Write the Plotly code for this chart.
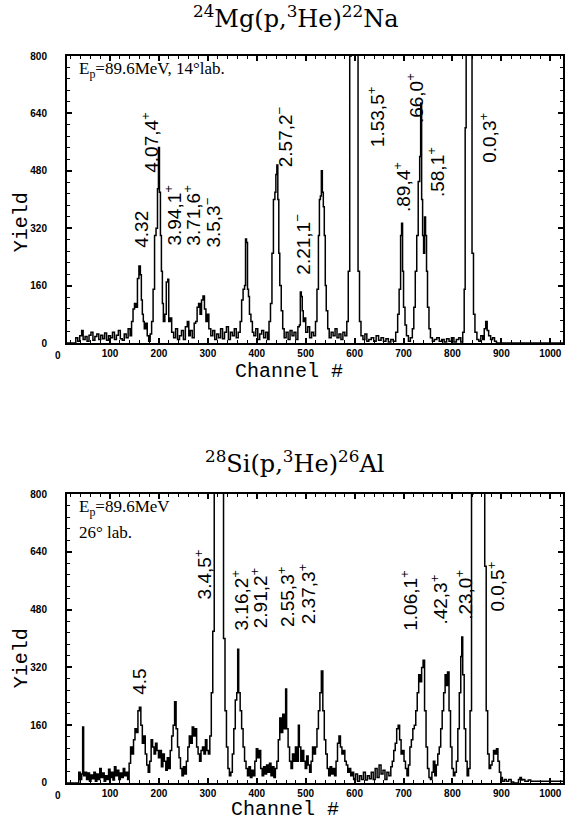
import plotly.graph_objects as go

# ---------------- data: 24Mg(p,3He)22Na ----------------
mg_channel = [0, 30, 34, 38, 42, 45, 49, 53, 57, 61, 65, 69, 73, 77, 81, 85, 89, 93, 97, 101, 105, 109, 113, 117, 121, 125, 129, 133, 137, 141,
              144, 147, 150, 153, 156, 159, 162, 164, 166, 168, 170, 173, 176, 179, 182, 185, 188, 191, 194, 197, 199, 201, 203, 205, 207, 209,
              212, 215, 218, 220, 223, 226, 230, 234, 238, 242, 246, 250, 254, 258, 261, 264, 268, 272, 275, 278, 281, 284, 287, 290, 293, 296,
              299, 302, 306, 310, 314, 318, 322, 326, 330, 334, 338, 342, 346, 350, 354, 358, 362, 366, 369, 372, 375, 377, 379, 381, 383, 385,
              388, 391, 394, 398, 402, 406, 410, 414, 418, 422, 425, 428, 431, 434, 437, 439, 441, 443, 445, 447, 450, 453, 456, 460, 464, 468,
              472, 476, 480, 484, 487, 489, 491, 493, 495, 497, 500, 504, 508, 512, 516, 520, 523, 526, 528, 530, 532, 534, 536, 538, 540, 542,
              545, 548, 552, 556, 560, 564, 568, 572, 576, 580, 584, 587, 590, 593, 600, 604, 607, 610, 613, 617, 621, 625, 629, 634, 639, 644,
              649, 654, 659, 664, 669, 674, 679, 684, 688, 691, 694, 696, 698, 700, 703, 706, 710, 714, 718, 721, 724, 727, 730, 733, 735, 737,
              739, 741, 743, 745, 747, 749, 752, 755, 759, 763, 768, 773, 778, 783, 788, 793, 798, 803, 808, 813, 817, 821, 824, 826, 828, 832,
              837, 840, 843, 846, 850, 854, 858, 862, 865, 868, 871, 874, 878, 882, 886, 890, 1026]
mg_yield = [0, 15, 5, 20, 35, 10, 18, 5, 22, 30, 8, 18, 25, 10, 22, 12, 28, 8, 20, 15, 30, 10, 22, 35, 12, 8, 25, 15, 40, 20,
            60, 95, 110, 100, 180, 215, 190, 120, 80, 60, 40, 55, 20, 5, 25, 60, 150, 300, 320, 430, 545, 420, 300, 200, 110, 60,
            80, 170, 178, 60, 70, 30, 15, 40, 10, 20, 35, 10, 45, 60, 20, 35, 15, 55, 60, 100, 110, 80, 120, 131, 95, 60,
            80, 40, 20, 35, 10, 25, 15, 40, 12, 30, 45, 10, 30, 20, 40, 15, 30, 60, 120, 150, 160, 290, 280, 150, 130, 80,
            60, 30, 20, 40, 10, 25, 35, 15, 30, 10, 60, 110, 250, 400, 420, 470, 496, 400, 250, 160, 90, 40, 15, 30, 10, 35,
            20, 30, 10, 45, 50, 142, 130, 90, 60, 70, 30, 45, 15, 30, 20, 60, 150, 300, 400, 410, 480, 420, 380, 300, 160, 90,
            40, 15, 30, 20, 40, 15, 25, 10, 30, 20, 60, 200, 800, 3000, 2500, 900, 200, 60, 20, 10, 25, 5, 10, 15, 5, 20,
            8, 15, 5, 12, 3, 10, 5, 30, 80, 150, 300, 334, 200, 100, 50, 20, 5, 15, 40, 100, 200, 300, 450, 520, 668, 400,
            300, 250, 351, 300, 200, 100, 40, 15, 5, 10, 15, 5, 10, 3, 12, 5, 15, 3, 10, 15, 3, 30, 150, 600, 2000, 3000,
            1000, 250, 80, 30, 10, 5, 20, 10, 40, 60, 35, 20, 10, 15, 5, 0, 0]

# ---------------- data: 28Si(p,3He)26Al ----------------
si_channel = [0, 36, 39, 42, 44, 46, 49, 52, 55, 58, 61, 64, 67, 70, 73, 76, 79, 82, 85, 88, 91, 94, 97, 100, 103, 106, 109, 112, 115, 118,
              121, 124, 127, 130, 133, 136, 139, 142, 145, 148, 151, 154, 157, 160, 163, 166, 169, 172, 175, 178, 181, 184, 187, 190, 193, 196,
              199, 202, 205, 208, 211, 214, 217, 220, 223, 226, 229, 232, 235, 238, 241, 244, 247, 250, 253, 256, 259, 262, 265, 268, 271, 274,
              277, 280, 283, 286, 289, 292, 295, 298, 301, 304, 307, 310, 313, 316, 326, 329, 332, 335, 338, 341, 344, 347, 350, 353, 356, 359,
              361, 363, 366, 369, 372, 375, 378, 381, 384, 387, 390, 393, 396, 399, 402, 405, 408, 411, 414, 417, 420, 423, 426, 429, 432, 435,
              438, 441, 444, 447, 450, 453, 456, 459, 461, 464, 467, 470, 473, 476, 479, 482, 485, 487, 490, 493, 496, 499, 502, 505, 508, 511,
              514, 517, 520, 523, 526, 529, 532, 535, 538, 541, 544, 547, 550, 553, 556, 559, 562, 565, 568, 571, 574, 577, 580, 583, 586, 589,
              592, 595, 598, 602, 606, 610, 614, 618, 622, 626, 630, 634, 638, 642, 646, 650, 654, 658, 662, 666, 670, 674, 677, 680, 683, 686,
              689, 692, 695, 698, 701, 704, 707, 710, 713, 716, 719, 722, 725, 728, 731, 734, 737, 740, 743, 746, 749, 752, 755, 758, 761, 764,
              767, 770, 773, 776, 779, 782, 785, 788, 790, 793, 796, 799, 802, 805, 808, 811, 814, 817, 819, 821, 824, 827, 830, 833, 836, 839,
              842, 862, 866, 869, 872, 875, 878, 881, 884, 887, 890, 893, 896, 899, 902, 906, 910, 915, 920, 925, 935, 938, 941, 944, 948, 955,
              960, 1026]
si_yield = [0, 30, 10, 25, 155, 20, 30, 10, 28, 5, 22, 12, 30, 5, 25, 10, 40, 15, 28, 5, 20, 10, 38, 15, 30, 8, 45, 20, 35, 10,
            28, 15, 40, 20, 30, 10, 55, 100, 80, 120, 150, 140, 200, 210, 160, 110, 130, 80, 50, 30, 60, 120, 100, 80, 110, 90,
            70, 90, 45, 80, 60, 35, 70, 40, 90, 130, 160, 225, 150, 100, 70, 40, 20, 45, 25, 60, 100, 130, 110, 155, 130, 150,
            100, 80, 60, 90, 100, 80, 120, 90, 80, 130, 250, 420, 900, 3000, 2000, 900, 400, 200, 100, 40, 20, 30, 80, 150, 230, 250,
            370, 250, 200, 150, 100, 60, 40, 20, 45, 15, 35, 20, 60, 95, 70, 90, 40, 20, 45, 25, 50, 30, 55, 20, 45, 15,
            40, 60, 120, 180, 140, 190, 150, 260, 150, 100, 60, 40, 80, 60, 100, 60, 160, 100, 60, 90, 60, 40, 75, 50, 30, 60,
            100, 80, 100, 150, 200, 250, 310, 200, 120, 80, 40, 20, 45, 25, 40, 20, 60, 110, 130, 100, 80, 90, 60, 50, 30, 40,
            20, 30, 10, 25, 5, 20, 10, 30, 8, 20, 12, 30, 10, 40, 15, 50, 25, 35, 10, 30, 20, 45, 60, 90, 110, 150,
            160, 120, 80, 90, 60, 40, 20, 50, 100, 120, 150, 160, 200, 250, 300, 280, 320, 340, 200, 100, 40, 15, 10, 30, 60, 20,
            50, 80, 100, 150, 200, 250, 300, 270, 307, 200, 100, 40, 20, 30, 60, 150, 250, 350, 404, 300, 150, 60, 20, 40, 200, 800,
            3000, 1500, 600, 200, 80, 40, 50, 60, 90, 80, 95, 60, 30, 15, 5, 10, 5, 10, 3, 0, 10, 15, 8, 10, 5, 8,
            5, 5]

x_tick_vals = [100, 200, 300, 400, 500, 600, 700, 800, 900, 1000]
y_tick_vals = [0, 160, 320, 480, 640, 800]

mg_label_text = ["4.32", "4.07,4<sup>+</sup>", "3.94,1<sup>+</sup>", "3.71,6<sup>+</sup>", "3.5,3<sup>\u2212</sup>",
                 "2.57,2<sup>\u2212</sup>", "2.21,1<sup>\u2212</sup>", "1.53,5<sup>+</sup>", ".89,4<sup>+</sup>",
                 ".66,0<sup>+</sup>", ".58,1<sup>+</sup>", "0.0,3<sup>+</sup>"]
mg_label_ch = [165, 181, 228, 267, 308, 456, 493, 644, 697, 725, 766, 874]
mg_label_y = [318, 560, 357, 357, 335, 574, 275, 630, 435, 682, 476, 571]

si_label_text = ["4.5", "3.4,5<sup>+</sup>", "3.16,2<sup>+</sup>", "2.91,2<sup>+</sup>", "2.55,3<sup>+</sup>",
                 "2.37,3<sup>+</sup>", "1.06,1<sup>+</sup>", ".42,3<sup>+</sup>", ".23,0<sup>+</sup>", "0.0,5<sup>+</sup>"]
si_label_ch = [161, 289, 365, 405, 460, 503, 711, 772, 823, 890]
si_label_y = [280, 576, 507, 512, 515, 523, 507, 507, 520, 545]

# ---------------- figure ----------------
fig = go.Figure()
line_style = dict(color="black", width=1.5, shape="hv")
fig.add_trace(go.Scatter(x=mg_channel, y=mg_yield, mode="lines", line=line_style, xaxis="x", yaxis="y",
                         showlegend=False, hoverinfo="skip"))
fig.add_trace(go.Scatter(x=si_channel, y=si_yield, mode="lines", line=line_style, xaxis="x2", yaxis="y2",
                         showlegend=False, hoverinfo="skip"))

tickfont = dict(family="Liberation Sans", size=10, color="black", weight="bold")
xax = dict(range=[12, 1026], tickvals=x_tick_vals, ticks="inside", ticklen=5, tickwidth=1.5, tickcolor="black",
           showline=True, linewidth=2, linecolor="black", mirror="ticks", showgrid=False, zeroline=False,
           tickfont=tickfont, ticklabeloverflow="allow",
           minor=dict(ticks="inside", dtick=20, tick0=0, ticklen=3, tickcolor="black", tickwidth=1))
yax = dict(range=[0, 800], tickvals=y_tick_vals, ticks="inside", ticklen=5, tickwidth=1.5, tickcolor="black",
           showline=True, linewidth=2, linecolor="black", mirror="ticks", showgrid=False, zeroline=False,
           tickfont=tickfont, ticklabelstandoff=16,
           minor=dict(ticks="inside", dtick=32, tick0=0, ticklen=3, tickcolor="black", tickwidth=1))

fig.update_layout(
    width=570, height=825,
    margin=dict(l=67, r=5, t=56, b=42),
    paper_bgcolor="white", plot_bgcolor="white",
    xaxis=dict(xax, anchor="y", domain=[0, 1]),
    yaxis=dict(yax, anchor="x", domain=[0.6052, 1]),
    xaxis2=dict(xax, anchor="y2", domain=[0, 1]),
    yaxis2=dict(yax, anchor="x2", domain=[0, 0.3975]),
)

ann = []
label_font = dict(family="Liberation Sans", size=19, color="black")
for t, c, v in zip(mg_label_text, mg_label_ch, mg_label_y):
    ann.append(dict(text=t, x=c, y=v, xref="x", yref="y", textangle=-90, showarrow=False,
                    xanchor="center", yanchor="middle", font=label_font))
for t, c, v in zip(si_label_text, si_label_ch, si_label_y):
    ann.append(dict(text=t, x=c, y=v, xref="x2", yref="y2", textangle=-90, showarrow=False,
                    xanchor="center", yanchor="middle", font=label_font))

title_font = dict(family="DejaVu Serif", size=24, color="black")
ann.append(dict(text="<sup>24</sup>Mg(p,<sup>3</sup>He)<sup>22</sup>Na", xref="paper", yref="paper",
                x=0.462, y=1.0536, showarrow=False, xanchor="center", yanchor="middle", font=title_font))
ann.append(dict(text="<sup>28</sup>Si(p,<sup>3</sup>He)<sup>26</sup>Al", xref="paper", yref="paper",
                x=0.458, y=0.4415, showarrow=False, xanchor="center", yanchor="middle", font=title_font))

axis_title_font = dict(family="Liberation Mono", size=20, color="black")
ann.append(dict(text="Channel #", xref="paper", yref="paper", x=0.448, y=0.566, showarrow=False,
                xanchor="center", yanchor="middle", font=axis_title_font))
ann.append(dict(text="Channel #", xref="paper", yref="paper", x=0.44, y=-0.036, showarrow=False,
                xanchor="center", yanchor="middle", font=axis_title_font))
ann.append(dict(text="Yield", xref="paper", yref="paper", x=-0.090, y=0.7717, textangle=-90, showarrow=False,
                xanchor="center", yanchor="middle", font=axis_title_font))
ann.append(dict(text="Yield", xref="paper", yref="paper", x=-0.090, y=0.172, textangle=-90, showarrow=False,
                xanchor="center", yanchor="middle", font=axis_title_font))

# "0" channel tick labels (left of the frame, as in the original)
ann.append(dict(text="0", xref="paper", yref="paper", x=-0.018, y=0.6052, yshift=-12, showarrow=False,
                xanchor="center", yanchor="middle", font=tickfont))
ann.append(dict(text="0", xref="paper", yref="paper", x=-0.018, y=0.0, yshift=-12, showarrow=False,
                xanchor="center", yanchor="middle", font=tickfont))

ep_font = dict(family="Liberation Serif", size=17, color="black")
ann.append(dict(text="E<sub>p</sub>=89.6MeV, 14\u00b0lab.", xref="x domain", yref="y domain", x=0.02, y=0.995,
                showarrow=False, xanchor="left", yanchor="top", font=ep_font))
ann.append(dict(text="E<sub>p</sub>=89.6MeV", xref="x2 domain", yref="y2 domain", x=0.02, y=0.995,
                showarrow=False, xanchor="left", yanchor="top", font=ep_font))
ann.append(dict(text="26\u00b0 lab.", xref="x2 domain", yref="y2 domain", x=0.02, y=0.905,
                showarrow=False, xanchor="left", yanchor="top", font=ep_font))

fig.update_layout(annotations=ann)
fig.write_html("out.html", config={"displayModeBar": False},
               post_script="document.body.style.margin='0px';")
